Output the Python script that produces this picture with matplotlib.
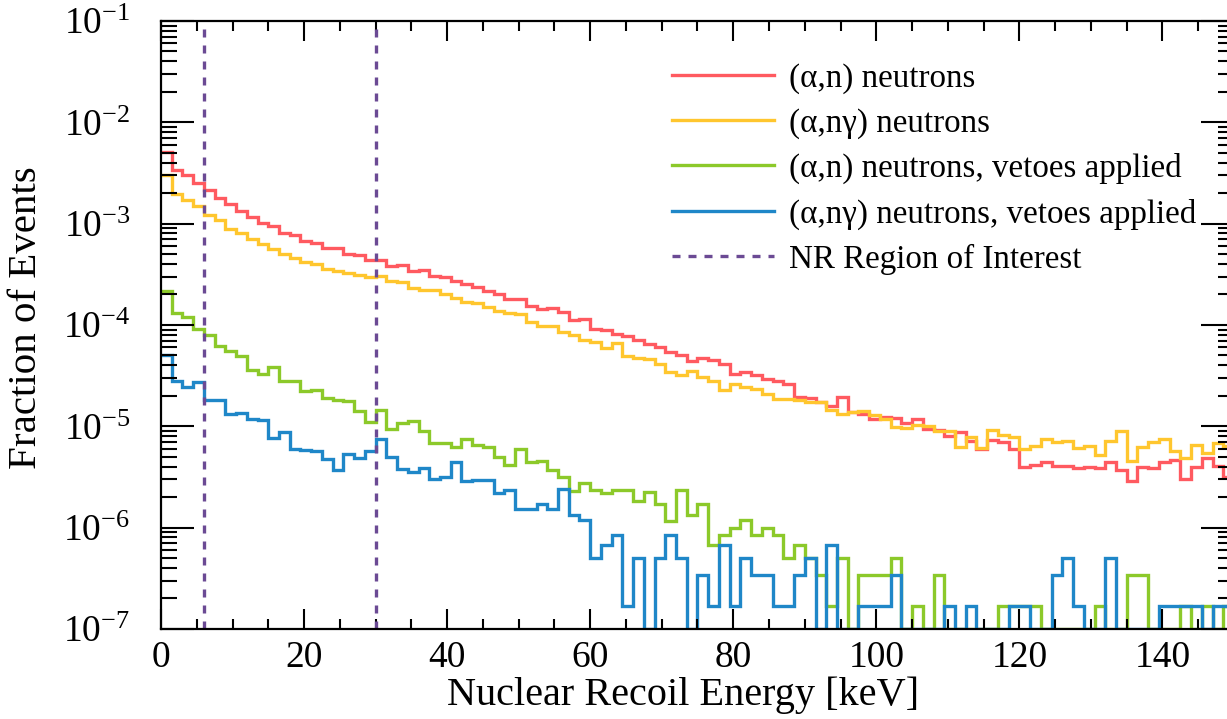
import numpy as np
import matplotlib
matplotlib.use("Agg")
import matplotlib.pyplot as plt
from matplotlib.ticker import MultipleLocator, FixedLocator, NullFormatter, LogFormatterMathtext

plt.rcParams['font.family'] = ['Liberation Serif', 'DejaVu Serif']
plt.rcParams['mathtext.fontset'] = 'custom'
plt.rcParams['mathtext.rm'] = 'Liberation Serif'
plt.rcParams['mathtext.it'] = 'Liberation Serif:italic'

# Binning: 100 bins of 1.5 keV from 0 to 150 keV
bin_width = 1.5
edges = np.arange(101) * bin_width

# Fraction of events per bin
an = [5.11e-3, 3.42e-3, 3.01e-3, 2.52e-3, 2.17e-3, 1.81e-3, 1.58e-3, 1.335e-3, 1.165e-3, 1.016e-3,
      9.42e-4, 8.09e-4, 7.68e-4, 6.75e-4, 6.45e-4, 5.80e-4, 5.75e-4, 5.06e-4, 4.95e-4, 4.35e-4,
      4.42e-4, 3.82e-4, 3.88e-4, 3.41e-4, 3.52e-4, 3.02e-4, 3.00e-4, 2.70e-4, 2.56e-4, 2.37e-4,
      2.15e-4, 2.04e-4, 1.82e-4, 1.81e-4, 1.53e-4, 1.45e-4, 1.46e-4, 1.34e-4, 1.11e-4, 1.154e-4,
      9.19e-5, 8.84e-5, 8.07e-5, 7.71e-5, 7.04e-5, 6.43e-5, 6.05e-5, 5.40e-5, 5.01e-5, 4.37e-5,
      4.75e-5, 4.54e-5, 4.15e-5, 3.25e-5, 3.42e-5, 3.18e-5, 2.95e-5, 2.79e-5, 2.63e-5, 1.94e-5,
      1.90e-5, 1.73e-5, 1.57e-5, 1.94e-5, 1.38e-5, 1.33e-5, 1.186e-5, 1.23e-5, 1.20e-5, 1.073e-5,
      1.18e-5, 9.45e-6, 9.15e-6, 8.11e-6, 8.88e-6, 7.24e-6, 5.99e-6, 7.36e-6, 6.97e-6, 5.99e-6,
      4.01e-6, 4.19e-6, 4.42e-6, 4.10e-6, 4.10e-6, 3.89e-6, 4.01e-6, 3.89e-6, 4.42e-6, 3.72e-6,
      2.87e-6, 4.01e-6, 3.89e-6, 4.42e-6, 4.67e-6, 3.03e-6, 3.94e-6, 4.88e-6, 4.10e-6, 3.19e-6]

ang = [3.01e-3, 1.95e-3, 1.70e-3, 1.485e-3, 1.23e-3, 1.08e-3, 8.94e-4, 8.09e-4, 7.12e-4, 6.36e-4,
       5.68e-4, 5.06e-4, 4.62e-4, 4.18e-4, 3.97e-4, 3.60e-4, 3.41e-4, 3.26e-4, 3.09e-4, 2.97e-4,
       3.02e-4, 2.72e-4, 2.65e-4, 2.34e-4, 2.23e-4, 2.20e-4, 2.01e-4, 1.86e-4, 1.68e-4, 1.645e-4,
       1.50e-4, 1.37e-4, 1.31e-4, 1.27e-4, 1.07e-4, 9.69e-5, 9.69e-5, 8.51e-5, 7.89e-5, 7.04e-5,
       6.78e-5, 5.97e-5, 6.62e-5, 4.89e-5, 4.75e-5, 4.65e-5, 4.15e-5, 3.42e-5, 3.18e-5, 3.50e-5,
       3.06e-5, 2.79e-5, 2.29e-5, 2.59e-5, 2.43e-5, 2.35e-5, 2.10e-5, 1.87e-5, 1.87e-5, 1.80e-5,
       1.73e-5, 1.73e-5, 1.455e-5, 1.33e-5, 1.38e-5, 1.43e-5, 1.28e-5, 1.19e-5, 9.95e-6, 9.62e-6,
       1.02e-5, 1.00e-5, 8.99e-6, 8.96e-6, 6.32e-6, 7.93e-6, 6.13e-6, 9.30e-6, 8.30e-6, 7.93e-6,
       5.99e-6, 6.46e-6, 7.52e-6, 6.97e-6, 7.24e-6, 6.13e-6, 6.46e-6, 5.26e-6, 7.24e-6, 9.09e-6,
       4.52e-6, 6.22e-6, 6.97e-6, 7.52e-6, 5.77e-6, 4.88e-6, 6.61e-6, 5.42e-6, 6.81e-6, 6.46e-6]

an_veto = [2.16e-4, 1.31e-4, 1.20e-4, 9.19e-5, 7.89e-5, 6.14e-5, 5.52e-5, 4.89e-5, 3.62e-5, 3.30e-5,
           3.84e-5, 2.79e-5, 2.79e-5, 2.22e-5, 2.29e-5, 1.91e-5, 1.83e-5, 1.77e-5, 1.41e-5, 1.10e-5,
           1.455e-5, 9.45e-6, 1.073e-5, 1.12e-5, 8.96e-6, 6.81e-6, 6.81e-6, 6.32e-6, 7.52e-6, 6.61e-6,
           6.22e-6, 5.03e-6, 4.14e-6, 5.99e-6, 4.42e-6, 4.52e-6, 3.72e-6, 3.19e-6, 2.32e-6, 2.74e-6,
           2.36e-6, 2.18e-6, 2.36e-6, 2.36e-6, 1.85e-6, 2.23e-6, 1.71e-6, 1.17e-6, 2.36e-6, 1.34e-6,
           1.71e-6, 6.7e-7, 8.4e-7, 1.0e-6, 1.18e-6, 8.4e-7, 1.0e-6, 8.4e-7, 5.0e-7, 6.7e-7,
           5.0e-7, 3.4e-7, 1.7e-7, 5.0e-7, 0, 3.4e-7, 3.4e-7, 3.4e-7, 5.0e-7, 0,
           1.7e-7, 0, 3.4e-7, 0, 0, 0, 0, 0, 1.7e-7, 1.7e-7,
           1.7e-7, 1.7e-7, 0, 0, 0, 0, 0, 1.7e-7, 0, 0,
           3.4e-7, 3.4e-7, 0, 0, 0, 1.7e-7, 0, 1.7e-7, 0, 1.7e-7]

ang_veto = [5.01e-5, 2.79e-5, 2.43e-5, 2.73e-5, 1.80e-5, 1.80e-5, 1.33e-5, 1.35e-5, 1.186e-5, 1.16e-5,
            7.70e-6, 8.74e-6, 5.99e-6, 5.86e-6, 5.77e-6, 4.77e-6, 3.70e-6, 5.38e-6, 4.88e-6, 5.73e-6,
            7.52e-6, 4.95e-6, 3.80e-6, 3.52e-6, 3.89e-6, 3.01e-6, 3.19e-6, 4.44e-6, 2.91e-6, 2.95e-6,
            2.97e-6, 2.18e-6, 2.36e-6, 1.53e-6, 1.53e-6, 1.70e-6, 1.52e-6, 2.41e-6, 1.34e-6, 1.18e-6,
            5.0e-7, 6.7e-7, 8.4e-7, 1.7e-7, 5.0e-7, 0, 5.0e-7, 8.4e-7, 5.0e-7, 0,
            3.4e-7, 1.7e-7, 6.7e-7, 1.7e-7, 5.0e-7, 3.4e-7, 3.4e-7, 1.7e-7, 1.7e-7, 3.4e-7,
            5.0e-7, 0, 6.7e-7, 0, 0, 1.7e-7, 1.7e-7, 1.7e-7, 3.4e-7, 0,
            0, 0, 0, 1.7e-7, 0, 1.7e-7, 0, 0, 0, 1.7e-7,
            1.7e-7, 0, 0, 3.4e-7, 5.0e-7, 1.7e-7, 0, 0, 5.0e-7, 0,
            0, 0, 0, 1.7e-7, 1.7e-7, 1.7e-7, 1.7e-7, 0, 1.7e-7, 1.7e-7]

# NR region of interest [keV]
roi = [6, 30]

labels = [u'(\u03b1,n) neutrons', u'(\u03b1,n\u03b3) neutrons',
          u'(\u03b1,n) neutrons, vetoes applied', u'(\u03b1,n\u03b3) neutrons, vetoes applied']
colours = ['#ff5a60', '#ffc62e', '#8cc92a', '#1f87c8']
roi_colour = '#6b4a94'

ymin, ymax = 1e-7, 1e-1
y_decades = [1e-7, 1e-6, 1e-5, 1e-4, 1e-3, 1e-2, 1e-1]

fig = plt.figure(figsize=(12.27, 7.19), dpi=100)
ax = fig.add_axes([0.1312, 0.1252, 0.8745, 0.8456])

for vals, col, lab in zip([an, ang, an_veto, ang_veto], colours, labels):
    # empty bins sit on the floor of the log axis
    ax.stairs(np.clip(vals, ymin, None), edges, color=col, lw=2.4, label=lab, baseline=None)

for i, e in enumerate(roi):
    ax.axvline(e, color=roi_colour, lw=2.4, ls=(0, (2.4, 2.4)),
               label='NR Region of Interest' if i == 0 else None)

ax.set_yscale('log')
ax.set_xlim(0, 150)
ax.set_ylim(ymin, ymax)

ax.xaxis.set_major_locator(MultipleLocator(20))
ax.xaxis.set_minor_locator(MultipleLocator(5))
ax.yaxis.set_major_locator(FixedLocator(y_decades))
ax.yaxis.set_major_formatter(LogFormatterMathtext())
minor_y = [m * d for d in y_decades[:-1] for m in range(2, 10)]
ax.yaxis.set_minor_locator(FixedLocator(minor_y))
ax.yaxis.set_minor_formatter(NullFormatter())

ax.tick_params(which='both', direction='in', top=True, right=True, width=1.5)
ax.tick_params(axis='x', which='major', length=14.4, pad=8, labelsize=27)
ax.tick_params(axis='x', which='minor', length=7.2)
ax.tick_params(axis='y', which='major', length=23.8, pad=22, labelsize=27)
ax.tick_params(axis='y', which='minor', length=11.5)
for s in ax.spines.values():
    s.set_linewidth(1.6)

fig.text(683 / 1227, 1 - 695 / 719, 'Nuclear Recoil Energy [keV]', fontsize=29,
         ha='center', va='center')
fig.text(27 / 1227, 1 - 318 / 719, 'Fraction of Events', fontsize=29.5,
         ha='center', va='center', rotation=90)

ax.legend(loc='upper left', bbox_to_anchor=(672 / 1227, 1 - 63 / 719),
          bbox_transform=fig.transFigure, frameon=False, fontsize=23.8,
          handlelength=3.1, handletextpad=0.45, labelspacing=0.43,
          borderpad=0, borderaxespad=0)

fig.savefig('out.png', dpi=100)
